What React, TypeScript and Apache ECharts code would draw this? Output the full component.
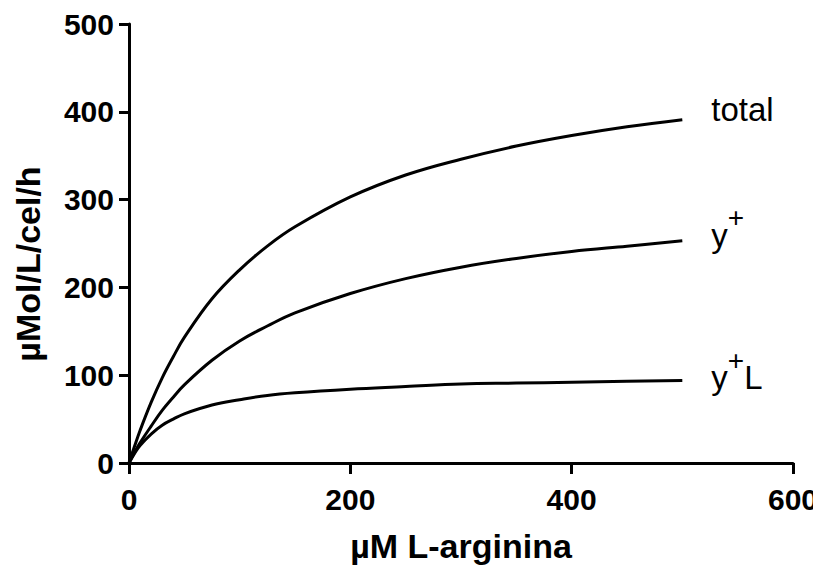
import React, { useEffect, useRef } from "react";
import * as echarts from "echarts";

const xValues = [0, 5, 10, 20, 30, 40, 50, 75, 100, 125, 150, 200, 250, 300, 350, 400, 450, 500];
const totalValues = [0, 19, 37, 69, 97, 121, 143, 187, 220, 247, 269, 303, 328, 346, 361, 373, 383, 391];
const yPlusValues = [0, 12, 23, 42, 60, 75, 89, 117, 139, 156, 171, 193, 210, 223, 233, 241, 247, 253];
const yPlusLValues = [0, 11, 20, 33, 43, 50, 56, 66, 72, 77, 80, 84, 87, 90, 91, 92, 93, 94];
const xTicks = [0, 200, 400, 600];
const yTicks = [0, 100, 200, 300, 400, 500];
const xTitle = "µM L-arginina";
const yTitle = "µMol/L/cel/h";

const FONT = "'Liberation Sans', Arial, sans-serif";

function pairs(ys: number[]) {
  return xValues.map((x, i) => [x, ys[i]]);
}

export default function App() {
  const ref = useRef<HTMLDivElement>(null);
  useEffect(() => {
    if (!ref.current) return;
    const chart = echarts.init(ref.current, undefined, { renderer: "svg" });
    const labelRich = {
      n: { fontFamily: FONT, fontSize: 33, color: "#000", lineHeight: 48, verticalAlign: "bottom" },
      s: { fontFamily: FONT, fontSize: 28, color: "#000", lineHeight: 28, verticalAlign: "top" },
    };
    const mkSeries = (name: string, ys: number[], fmt: string, offset: number[]) => ({
      name,
      type: "line",
      data: pairs(ys),
      smooth: 0.4,
      showSymbol: false,
      symbol: "none",
      lineStyle: { color: "#000", width: 3 },
      endLabel: {
        show: true,
        formatter: fmt,
        distance: 29,
        offset,
        rich: labelRich,
      },
      z: 3,
    });
    chart.setOption({
      animation: false,
      backgroundColor: "#fff",
      grid: { left: 129, right: 28, top: 24, bottom: 113, containLabel: false },
      xAxis: {
        type: "value",
        min: 0,
        max: 600,
        interval: 200,
        name: xTitle,
        nameLocation: "middle",
        nameGap: 66,
        nameTextStyle: { fontFamily: FONT, fontSize: 34, fontWeight: "bold", color: "#000" },
        axisLine: { show: true, onZero: false, lineStyle: { color: "#000", width: 3 } },
        axisTick: { show: true, length: 11, lineStyle: { color: "#000", width: 3 } },
        axisLabel: {
          margin: 21,
          fontFamily: FONT,
          fontSize: 30,
          fontWeight: "bold",
          color: "#000",
          formatter: (v: number) => (xTicks.includes(v) ? String(v) : ""),
        },
        splitLine: { show: false },
      },
      yAxis: {
        type: "value",
        min: 0,
        max: 500,
        interval: 100,
        axisLine: { show: true, onZero: false, lineStyle: { color: "#000", width: 3 } },
        axisTick: { show: true, length: 10, lineStyle: { color: "#000", width: 3 } },
        axisLabel: {
          margin: 15,
          fontFamily: FONT,
          fontSize: 30,
          fontWeight: "bold",
          color: "#000",
          formatter: (v: number) => (yTicks.includes(v) ? String(v) : ""),
        },
        splitLine: { show: false },
      },
      graphic: [
        {
          type: "text",
          x: 28,
          y: 264,
          rotation: Math.PI / 2,
          style: {
            text: yTitle,
            fontFamily: FONT,
            fontSize: 34,
            fontWeight: "bold",
            fill: "#000",
            align: "center",
            verticalAlign: "middle",
          },
        },
      ],
      series: [
        mkSeries("total", totalValues, "{n|total}", [0, -18]),
        mkSeries("y+", yPlusValues, "{n|y}{s|+}", [0, -13]),
        mkSeries("y+L", yPlusLValues, "{n|y}{s|+}{n|L}", [0, -10]),
      ],
    });
    return () => chart.dispose();
  }, []);
  return <div ref={ref} style={{ width: 821, height: 576, margin: -8 }} />;
}
